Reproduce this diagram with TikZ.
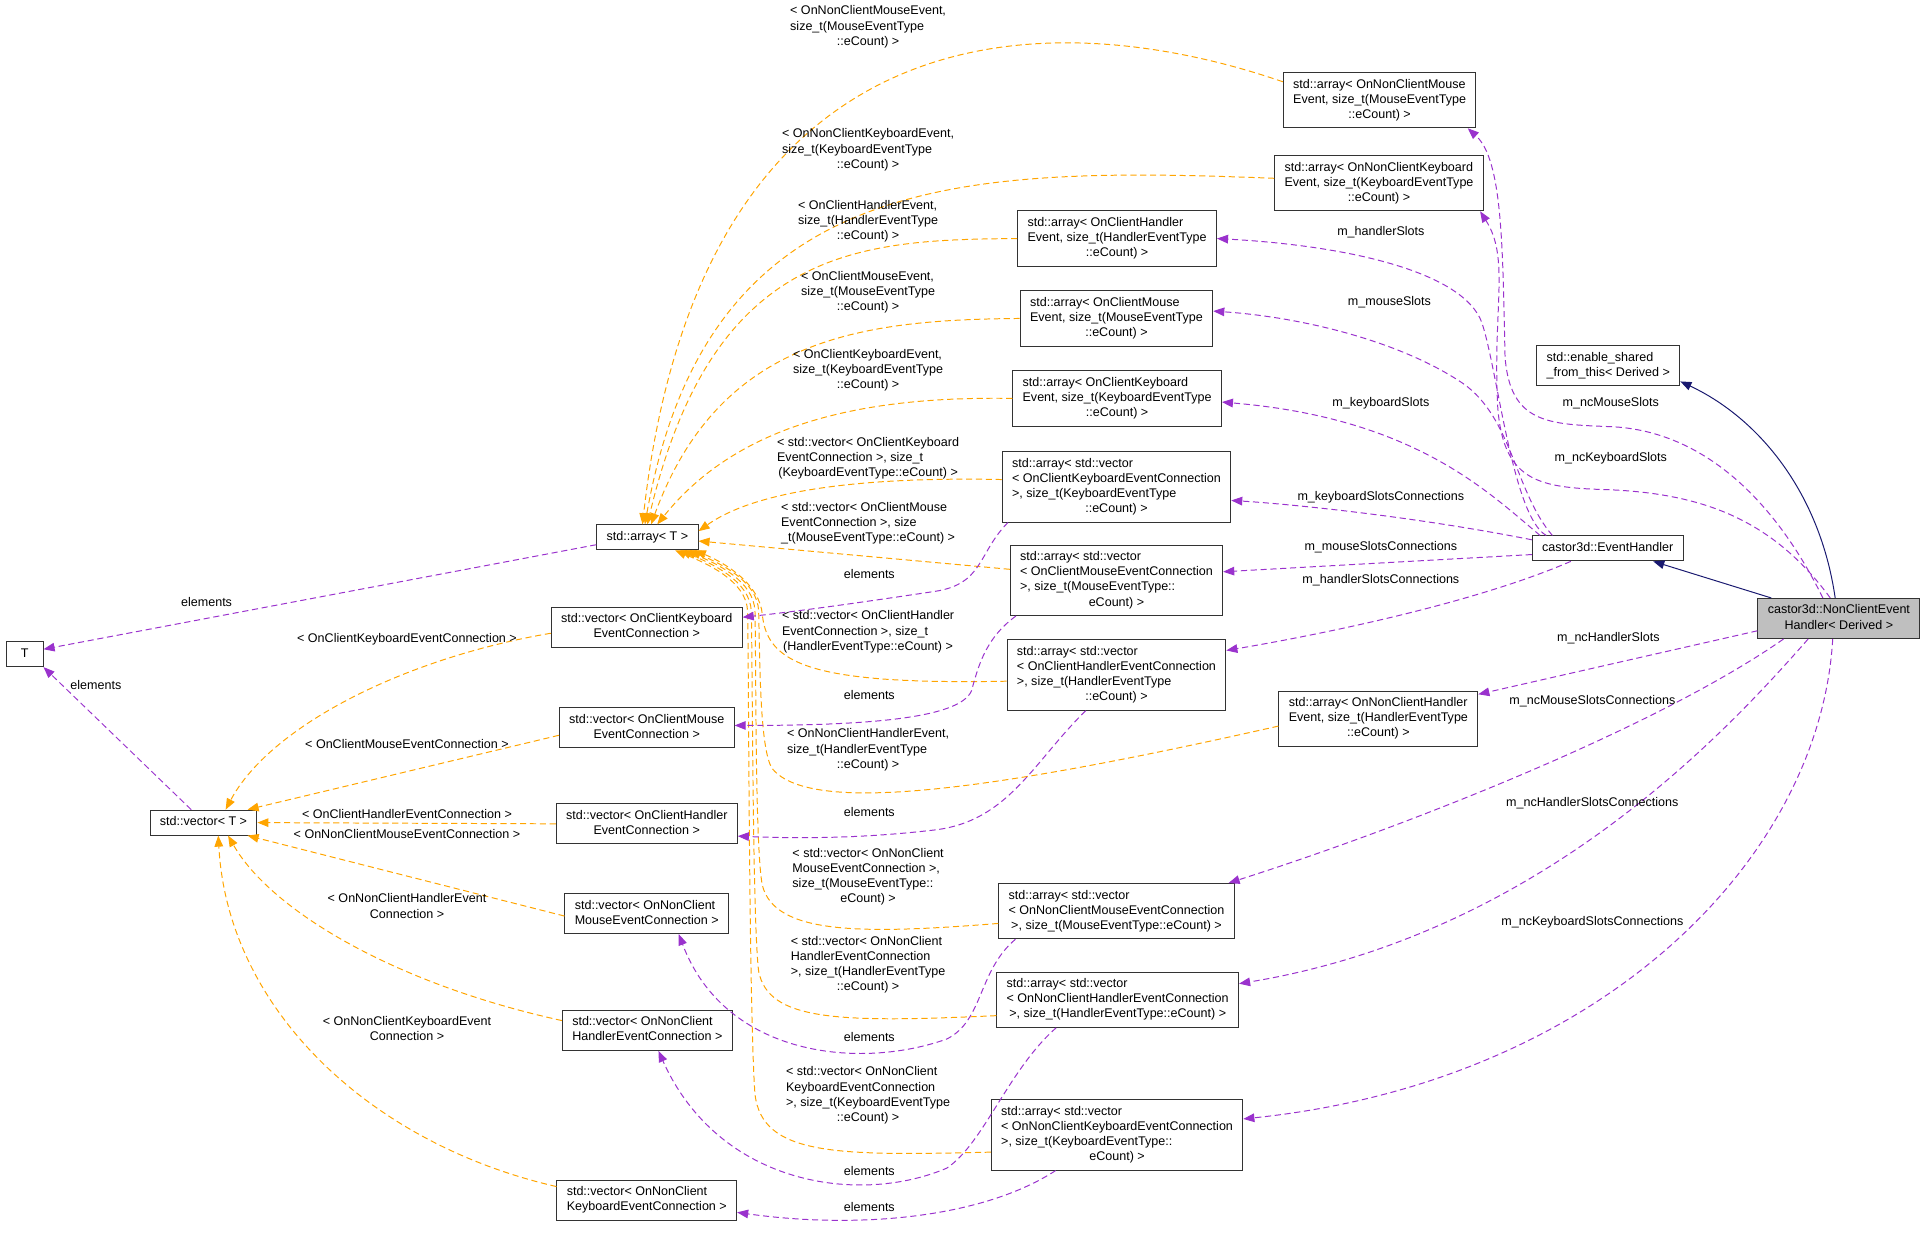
\documentclass[tikz,border=0pt]{standalone}
\usepackage{fontspec}
\setmainfont{Liberation Sans}
\usetikzlibrary{arrows.meta}
\definecolor{tmplorange}{HTML}{FFA500}
\definecolor{usepurple}{HTML}{9A32CD}
\definecolor{inhnavy}{HTML}{191970}
\definecolor{selgray}{HTML}{BFBFBF}
\newcommand{\boxlines}[1]{\begin{tabular}{@{}l@{}}#1\end{tabular}}
\newcommand{\lastln}[1]{\multicolumn{1}{@{}c@{}}{#1}}

\begin{document}
\begin{tikzpicture}[x=1pt, y=-1pt,
  font=\fontsize{10.2}{12.3}\selectfont,
  cls/.style={draw=black!80, fill=white, line width=0.8pt, inner xsep=8pt, inner ysep=4pt, minimum width=30pt},
  sel/.style={cls, fill=selgray},
  lbl/.style={inner sep=1pt},
  tmpl/.style={draw=tmplorange, line width=0.8pt, dash pattern=on 5pt off 3pt, -{Triangle[length=9pt,width=7pt]}},
  uses/.style={draw=usepurple, line width=0.8pt, dash pattern=on 5pt off 3pt, -{Triangle[length=9pt,width=7pt]}},
  inherit/.style={draw=inhnavy, line width=0.8pt, -{Triangle[length=9pt,width=7pt]}}]
 \useasboundingbox[fill=white] (0,0) rectangle (1568,1003);

 \node[cls] (T) at (20,532) {\boxlines{T}};
 \node[cls] (vecT) at (165.5,669) {\boxlines{std::vector< T >}};
 \node[cls] (arrT) at (526.5,437) {\boxlines{std::array< T >}};
 \node[cls] (vecCK) at (526,510) {\boxlines{std::vector< OnClientKeyboard\\\lastln{EventConnection >}}};
 \node[cls] (vecCM) at (526,592) {\boxlines{std::vector< OnClientMouse\\\lastln{EventConnection >}}};
 \node[cls] (vecCH) at (526,670) {\boxlines{std::vector< OnClientHandler\\\lastln{EventConnection >}}};
 \node[cls] (vecNM) at (526,743) {\boxlines{std::vector< OnNonClient\\\lastln{MouseEventConnection >}}};
 \node[cls] (vecNH) at (526.5,838) {\boxlines{std::vector< OnNonClient\\\lastln{HandlerEventConnection >}}};
 \node[cls] (vecNK) at (526,976) {\boxlines{std::vector< OnNonClient\\\lastln{KeyboardEventConnection >}}};
 \node[cls] (arrNM) at (1122,81.5) {\boxlines{std::array< OnNonClientMouse\\Event, size\_t(MouseEventType\\\lastln{::eCount) >}}};
 \node[cls] (arrNK) at (1121.5,149) {\boxlines{std::array< OnNonClientKeyboard\\Event, size\_t(KeyboardEventType\\\lastln{::eCount) >}}};
 \node[cls] (arrCH) at (908.5,194) {\boxlines{std::array< OnClientHandler\\Event, size\_t(HandlerEventType\\\lastln{::eCount) >}}};
 \node[cls] (arrCM) at (908,259) {\boxlines{std::array< OnClientMouse\\Event, size\_t(MouseEventType\\\lastln{::eCount) >}}};
 \node[cls] (arrCK) at (908.5,324) {\boxlines{std::array< OnClientKeyboard\\Event, size\_t(KeyboardEventType\\\lastln{::eCount) >}}};
 \node[cls] (avCK) at (908,396) {\boxlines{std::array< std::vector\\< OnClientKeyboardEventConnection\\>, size\_t(KeyboardEventType\\\lastln{::eCount) >}}};
 \node[cls] (avCM) at (908,472) {\boxlines{std::array< std::vector\\< OnClientMouseEventConnection\\>, size\_t(MouseEventType::\\\lastln{eCount) >}}};
 \node[cls] (avCH) at (908,549) {\boxlines{std::array< std::vector\\< OnClientHandlerEventConnection\\>, size\_t(HandlerEventType\\\lastln{::eCount) >}}};
 \node[cls] (arrNH) at (1121,584.5) {\boxlines{std::array< OnNonClientHandler\\Event, size\_t(HandlerEventType\\\lastln{::eCount) >}}};
 \node[cls] (avNM) at (908,741) {\boxlines{std::array< std::vector\\< OnNonClientMouseEventConnection\\\lastln{>, size\_t(MouseEventType::eCount) >}}};
 \node[cls] (avNH) at (909,813) {\boxlines{std::array< std::vector\\< OnNonClientHandlerEventConnection\\\lastln{>, size\_t(HandlerEventType::eCount) >}}};
 \node[cls] (avNK) at (908.5,923) {\boxlines{std::array< std::vector\\< OnNonClientKeyboardEventConnection\\>, size\_t(KeyboardEventType::\\\lastln{eCount) >}}};
 \node[cls] (enable) at (1308,297.5) {\boxlines{std::enable\_shared\\\lastln{\_from\_this< Derived >}}};
 \node[cls] (evh) at (1307.5,446) {\boxlines{castor3d::EventHandler}};
 \node[sel] (nceh) at (1495.5,503) {\boxlines{castor3d::NonClientEvent\\\lastln{Handler< Derived >}}};

 \draw[tmpl] ([yshift=15pt]arrNM.west) .. controls (850,0) and (570,5) .. ([xshift=-4pt]arrT.north)
  node[lbl] at (706,22) {\boxlines{< OnNonClientMouseEvent,\\size\_t(MouseEventType\\\lastln{::eCount) >}}};
 \draw[tmpl] ([yshift=4pt]arrNK.west) .. controls (780,135) and (575,140) .. ([xshift=-2pt]arrT.north)
  node[lbl] at (706,122) {\boxlines{< OnNonClientKeyboardEvent,\\size\_t(KeyboardEventType\\\lastln{::eCount) >}}};
 \draw[tmpl] (arrCH.west) .. controls (700,195) and (580,200) .. (arrT.north)
  node[lbl] at (706,180) {\boxlines{< OnClientHandlerEvent,\\size\_t(HandlerEventType\\\lastln{::eCount) >}}};
 \draw[tmpl] (arrCM.west) .. controls (700,260) and (585,275) .. ([xshift=3pt]arrT.north)
  node[lbl] at (706,238) {\boxlines{< OnClientMouseEvent,\\size\_t(MouseEventType\\\lastln{::eCount) >}}};
 \draw[tmpl] (arrCK.west) .. controls (700,322) and (600,345) .. ([xshift=8pt]arrT.north)
  node[lbl] at (706,301) {\boxlines{< OnClientKeyboardEvent,\\size\_t(KeyboardEventType\\\lastln{::eCount) >}}};
 \draw[tmpl] ([yshift=6pt]avCK.west) .. controls (720,388) and (620,395) .. ([yshift=5pt]arrT.east)
  node[lbl] at (706,373) {\boxlines{< std::vector< OnClientKeyboard\\EventConnection >, size\_t\\\lastln{(KeyboardEventType::eCount) >}}};
 \draw[tmpl] ([yshift=9pt]avCM.west) -- ([yshift=-3pt]arrT.east)
  node[lbl] at (706,426) {\boxlines{< std::vector< OnClientMouse\\EventConnection >, size\\\lastln{\_t(MouseEventType::eCount) >}}};
 \draw[tmpl] ([yshift=-5pt]avCH.west) .. controls (660,557) and (624,540) .. (620,500) .. controls (618,475) and (590,458) .. ([xshift=-3pt]arrT.south east)
  node[lbl] at (706,514) {\boxlines{< std::vector< OnClientHandler\\EventConnection >, size\_t\\\lastln{(HandlerEventType::eCount) >}}};
 \draw[tmpl] ([yshift=-6pt]arrNH.west) .. controls (820,640) and (660,665) .. (628,625) .. controls (618,610) and (618,540) .. (617,497) .. controls (616,472) and (585,458) .. ([xshift=-7pt]arrT.south east)
  node[lbl] at (706,610) {\boxlines{< OnNonClientHandlerEvent,\\size\_t(HandlerEventType\\\lastln{::eCount) >}}};
 \draw[tmpl] ([yshift=-10pt]avNM.west) .. controls (700,760) and (630,760) .. (620,720) .. controls (614,690) and (615,540) .. (614,497) .. controls (613,472) and (582,458) .. ([xshift=-11pt]arrT.south east)
  node[lbl] at (706,713) {\boxlines{< std::vector< OnNonClient\\MouseEventConnection >,\\size\_t(MouseEventType::\\\lastln{eCount) >}}};
 \draw[tmpl] ([yshift=-13pt]avNH.west) .. controls (680,832) and (625,830) .. (617,790) .. controls (612,750) and (612,540) .. (611,497) .. controls (610,472) and (578,458) .. ([xshift=-15pt]arrT.south east)
  node[lbl] at (706,785) {\boxlines{< std::vector< OnNonClient\\HandlerEventConnection\\>, size\_t(HandlerEventType\\\lastln{::eCount) >}}};
 \draw[tmpl] ([yshift=-14pt]avNK.west) .. controls (680,940) and (620,940) .. (614,890) .. controls (609,820) and (609,540) .. (608,497) .. controls (607,472) and (574,458) .. ([xshift=-19pt]arrT.south east)
  node[lbl] at (706,891) {\boxlines{< std::vector< OnNonClient\\KeyboardEventConnection\\>, size\_t(KeyboardEventType\\\lastln{::eCount) >}}};

 \draw[tmpl] ([yshift=-5pt]vecCK.west) .. controls (330,535) and (220,590) .. ([xshift=18pt]vecT.north)
  node[lbl] at (331,520) {< OnClientKeyboardEventConnection >};
 \draw[tmpl] ([yshift=-6pt]vecCM.west) -- ([xshift=-8pt]vecT.north east)
  node[lbl] at (331,605) {< OnClientMouseEventConnection >};
 \draw[tmpl] (vecCH.west) -- (vecT.east)
  node[lbl] at (331,662) {< OnClientHandlerEventConnection >};
 \draw[tmpl] ([yshift=-2pt]vecNM.west) -- ([xshift=-8pt]vecT.south east)
  node[lbl] at (331,678) {< OnNonClientMouseEventConnection >};
 \draw[tmpl] ([yshift=8pt]vecNH.west) .. controls (320,800) and (220,740) .. ([xshift=20pt]vecT.south)
  node[lbl] at (331,738) {\boxlines{< OnNonClientHandlerEvent\\\lastln{Connection >}}};
 \draw[tmpl] ([yshift=11pt]vecNK.west) .. controls (300,930) and (185,820) .. ([xshift=12pt]vecT.south)
  node[lbl] at (331,838) {\boxlines{< OnNonClientKeyboardEvent\\\lastln{Connection >}}};

 \draw[uses] ([yshift=-6pt]arrT.west) -- ([yshift=4pt]T.east)
  node[lbl] at (168,490) {elements};
 \draw[uses] ([xshift=-10pt]vecT.north) -- (T.south east)
  node[lbl] at (78,557) {elements};
 \draw[uses] ([xshift=5pt]avCK.south west) .. controls (795,450) and (800,475) .. (760,481) .. controls (700,490) and (650,497) .. ([yshift=8pt]vecCK.east)
  node[lbl] at (707,467) {elements};
 \draw[uses] ([xshift=5pt]avCM.south west) .. controls (800,520) and (795,545) .. (790,562) .. controls (780,585) and (700,590) .. ([yshift=2pt]vecCM.east)
  node[lbl] at (707,565) {elements};
 \draw[uses] ([xshift=-25pt]avCH.south) .. controls (840,620) and (820,668) .. (760,675) .. controls (700,682) and (650,682) .. ([yshift=-10pt]vecCH.east)
  node[lbl] at (707,660) {elements};
 \draw[uses] ([xshift=14pt]avNM.south west) .. controls (795,790) and (800,830) .. (770,845) .. controls (700,870) and (590,860) .. ([xshift=26pt]vecNM.south)
  node[lbl] at (707,843) {elements};
 \draw[uses] ([xshift=-50pt]avNH.south) .. controls (820,870) and (800,930) .. (770,950) .. controls (700,980) and (585,965) .. ([xshift=9pt]vecNH.south)
  node[lbl] at (707,952) {elements};
 \draw[uses] ([xshift=-50pt]avNK.south) .. controls (800,990) and (700,1000) .. ([yshift=-10pt]vecNK.east)
  node[lbl] at (707,982) {elements};

 \draw[uses] ([xshift=-50pt]evh.north) .. controls (1230,420) and (1218,300) .. (1205,262) .. controls (1190,222) and (1100,200) .. (arrCH.east)
  node[lbl] at (1123,189) {m\_handlerSlots};
 \draw[uses] ([xshift=-45pt]evh.north) .. controls (1232,400) and (1230,340) .. (1190,312) .. controls (1140,278) and (1060,258) .. ([yshift=6pt]arrCM.east)
  node[lbl] at (1130,246) {m\_mouseSlots};
 \draw[uses] ([xshift=-55pt]evh.north) .. controls (1210,400) and (1150,340) .. ([yshift=-3pt]arrCK.east)
  node[lbl] at (1123,328) {m\_keyboardSlots};
 \draw[uses] ([yshift=7pt]evh.west) .. controls (1150,420) and (1050,410) .. ([yshift=-11pt]avCK.east)
  node[lbl] at (1123,404) {m\_keyboardSlotsConnections};
 \draw[uses] ([yshift=-5pt]evh.west) -- ([yshift=7pt]avCM.east)
  node[lbl] at (1123,445) {m\_mouseSlotsConnections};
 \draw[uses] ([xshift=-30pt]evh.south) .. controls (1200,490) and (1080,515) .. ([yshift=20pt]avCH.east)
  node[lbl] at (1123,472) {m\_handlerSlotsConnections};

 \draw[uses] ([xshift=-13pt]nceh.north) .. controls (1440,400) and (1380,350) .. (1310,347) .. controls (1260,345) and (1228,345) .. (1224,290) .. controls (1222,200) and (1222,130) .. ([xshift=-7pt]arrNM.south east)
  node[lbl] at (1310,328) {m\_ncMouseSlots};
 \draw[uses] ([xshift=-7pt]nceh.north) .. controls (1440,420) and (1380,400) .. (1300,398) .. controls (1250,396) and (1222,390) .. (1218,330) .. controls (1214,250) and (1228,210) .. ([xshift=-3pt]arrNK.south east)
  node[lbl] at (1310,373) {m\_ncKeyboardSlots};
 \draw[uses] ([yshift=-10pt]nceh.west) -- ([yshift=-3pt]arrNH.north east)
  node[lbl] at (1308,519) {m\_ncHandlerSlots};
 \draw[uses] ([xshift=-45pt]nceh.south) .. controls (1350,590) and (1150,670) .. ([xshift=-5pt]avNM.north east)
  node[lbl] at (1295,570) {m\_ncMouseSlotsConnections};
 \draw[uses] ([xshift=-25pt]nceh.south) .. controls (1400,600) and (1250,760) .. ([yshift=13pt]avNH.east)
  node[lbl] at (1295,653) {m\_ncHandlerSlotsConnections};
 \draw[uses] ([xshift=-5pt]nceh.south) .. controls (1480,700) and (1300,880) .. ([yshift=13pt]avNK.east)
  node[lbl] at (1295,750) {m\_ncKeyboardSlotsConnections};

 \draw[inherit] ([xshift=-3pt]nceh.north) .. controls (1480,400) and (1430,340) .. ([yshift=4pt]enable.south east);
 \draw[inherit] ([xshift=-55pt]nceh.north) -- ([xshift=37pt]evh.south);
\end{tikzpicture}
\end{document}
